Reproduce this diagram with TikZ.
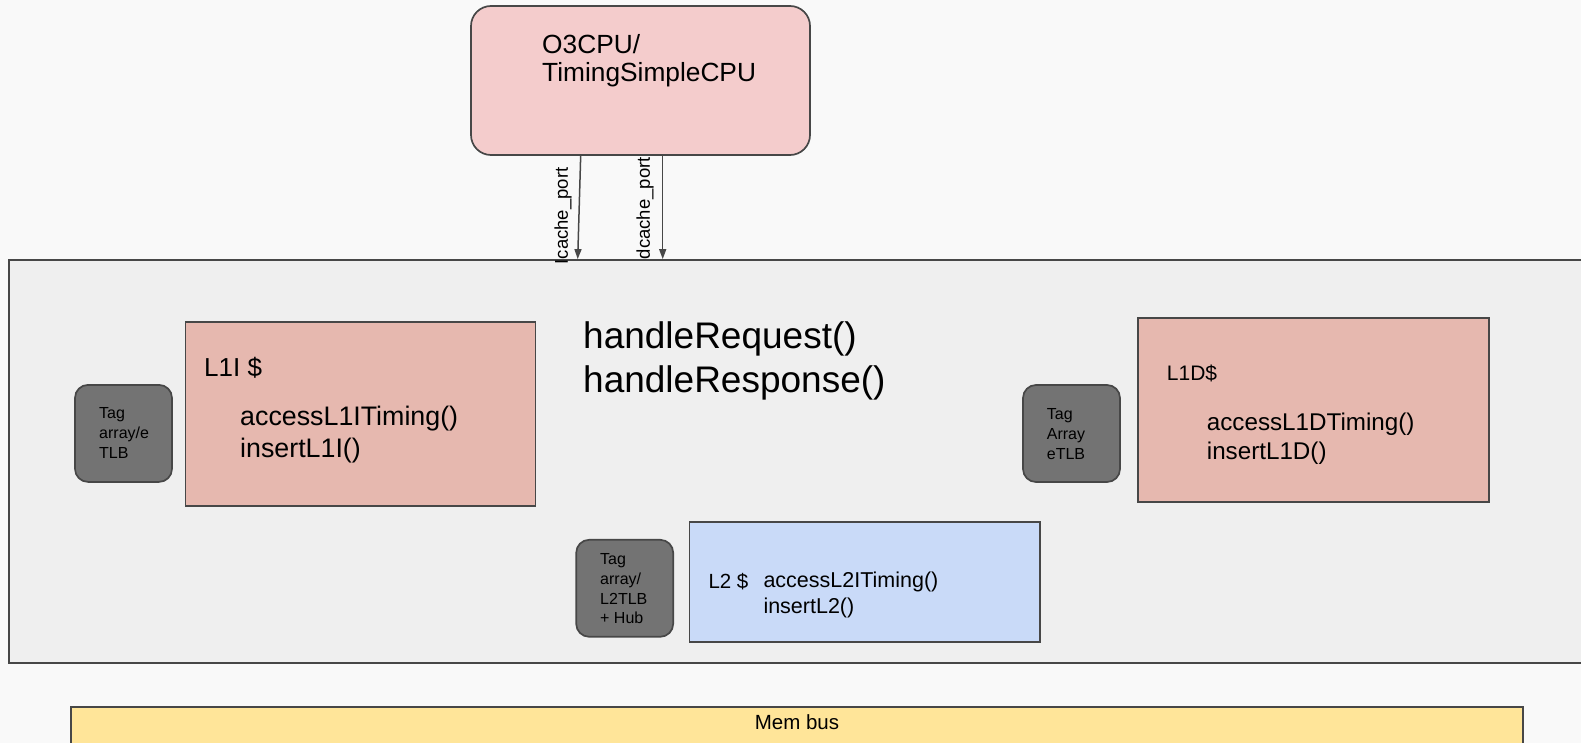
\documentclass[tikz,border=0pt]{standalone}
\usepackage{fontspec}
\setmainfont{Liberation Sans}
\usepackage{xcolor}
\usepackage{tikz}
\usetikzlibrary{arrows.meta}

\definecolor{pagebg}{HTML}{F9F9F9}
\definecolor{simbg}{HTML}{EFEFEF}
\definecolor{edge}{HTML}{474747}
\definecolor{cpufill}{HTML}{F4CCCC}
\definecolor{lonefill}{HTML}{E6B8AF}
\definecolor{ltwofill}{HTML}{C9DAF8}
\definecolor{tagfill}{HTML}{737373}
\definecolor{busfill}{HTML}{FFE599}

\newcommand{\fsz}[2]{\fontsize{#1}{#2}\selectfont}

\begin{document}
\begin{tikzpicture}[x=1pt, y=-1pt,
  box/.style={draw=edge, line width=1.7pt, inner sep=0pt},
  tagbox/.style={box, fill=tagfill, rounded corners=13pt, minimum width=97pt, minimum height=97pt},
  cachebox/.style={box, fill=lonefill, minimum width=350pt, minimum height=184pt},
  txt/.style={anchor=west, inner sep=0pt, align=left},
  tagtxt/.style={txt, font=\fsz{16}{20}},
  portlbl/.style={inner sep=0pt, rotate=90, font=\fsz{18.5}{22}},
  port/.style={-{Triangle[length=10pt, width=7pt]}, draw=edge, line width=1.5pt}
]
\useasboundingbox (0,0) rectangle (1581,743);
\fill[pagebg] (0,0) rectangle (1581,743);
\clip (0,0) rectangle (1581,743);

% memory system frame, runs off the right edge
\node[box, fill=simbg, minimum width=1611pt, minimum height=402.7pt] (sim) at (814.5,461.3) {};
\node[box, fill=busfill, minimum width=1452.6pt, minimum height=80pt] (membus) at (797,746.7) {};
\node[font=\fsz{20.5}{24}, inner sep=0pt] (busname) at (797,722) {Mem bus};

% cpu and its two ports
\draw[port] ([xshift=-59.8pt]640.5,155) -- ([xshift=-236.8pt]sim.north);
\draw[port] ([xshift=22.2pt]640.5,155) -- ([xshift=-151.8pt]sim.north);
\node[box, fill=cpufill, rounded corners=20pt, minimum width=339pt, minimum height=149pt] (cpu) at (640.5,80.5) {};
\node[txt, font=\fsz{26.3}{28}] (cpuname) at (542,61) {O3CPU/\\TimingSimpleCPU};
\node[portlbl] (iport) at (563,216) {Icache\_port};
\node[portlbl] (dport) at (645,208.3) {dcache\_port};

\node[txt, font=\fsz{37}{44}] (handlers) at (583,360.7) {handleRequest()\\handleResponse()};

% L1 instruction side
\node[cachebox] (l1i) at (360.5,414) {};
\node[tagbox] (l1itag) at (123.5,433.4) {};
\node[tagtxt] (l1itagtxt) at (99,433) {Tag\\array/e\\TLB};
\node[txt, font=\fsz{26}{30}] (l1iname) at (204,368) {L1I \$};
\node[txt, font=\fsz{26.8}{32}] (l1ifuncs) at (240,434.5) {accessL1ITiming()\\insertL1I()};

% L1 data side
\node[cachebox, minimum width=351pt] (l1d) at (1313.5,410) {};
\node[tagbox] (l1dtag) at (1071.5,433.5) {};
\node[tagtxt] (l1dtagtxt) at (1046.7,434) {Tag\\Array\\eTLB};
\node[txt, font=\fsz{21}{25}] (l1dname) at (1166.7,373) {L1D\$};
\node[txt, font=\fsz{24.2}{29}] (l1dfuncs) at (1206.7,438.5) {accessL1DTiming()\\insertL1D()};

% shared L2
\node[box, fill=ltwofill, minimum width=350.7pt, minimum height=120pt] (l2) at (864.7,581.7) {};
\node[tagbox] (l2tag) at (624.7,588.3) {};
\node[tagtxt, font=\fsz{16}{19.7}] (l2tagtxt) at (600,589) {Tag\\array/\\L2TLB\\+ Hub};
\node[txt, font=\fsz{20.5}{24}] (l2name) at (708.3,582) {L2 \$};
\node[txt, font=\fsz{21.5}{26}] (l2funcs) at (763.3,595) {accessL2ITiming()\\insertL2()};
\end{tikzpicture}
\end{document}
